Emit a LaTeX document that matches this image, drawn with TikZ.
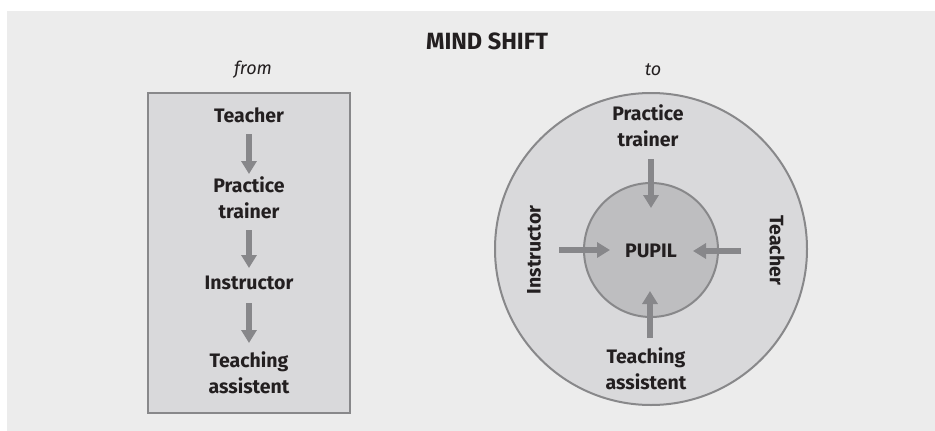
\documentclass[tikz,border=0pt]{standalone}
\usepackage{fontspec}
\setmainfont{Fira Sans}
\usetikzlibrary{arrows.meta}
\definecolor{panel}{HTML}{ECECEC}
\definecolor{boxfill}{HTML}{D9D9DB}
\definecolor{edge}{HTML}{88888A}
\definecolor{innerfill}{HTML}{BEBEC0}
\definecolor{arrowgray}{HTML}{87878A}
\definecolor{ink}{HTML}{231F20}
\tikzset{
  lbl/.style={font=\fontsize{19.5}{26.5}\selectfont\bfseries, text=ink, align=center, inner sep=0pt},
  captext/.style={font=\fontsize{18}{20}\selectfont\itshape, text=ink, inner sep=0pt},
  flow/.style={draw=arrowgray, line width=5.5pt, -{Triangle[width=15pt,length=13pt]}},
}
\begin{document}
\begin{tikzpicture}[x=1pt,y=-1pt]
\useasboundingbox (0,0) rectangle (935,431);
\fill[panel] (7,11) rectangle (935,431);
% title
\node[font=\fontsize{23.5}{26}\selectfont\bfseries, text=ink, inner sep=0pt] (title) at (487,41) {MIND SHIFT};
\node[captext] (from) at (253,70) {from};
\node[captext] (to) at (653,70) {to};
% left box
\draw[edge, fill=boxfill, line width=2.6pt] (148,93) rectangle (350,413);
\node[lbl] (t1) at (249,115) {Teacher};
\node[lbl] (t2) at (249,198) {Practice\\trainer};
\node[lbl] (t3) at (249,283) {Instructor};
\node[lbl] (t4) at (249,373) {Teaching\\assistent};
\coordinate (a1s) at (249,134); \coordinate (a1e) at (249,174);
\coordinate (a2s) at (249,230); \coordinate (a2e) at (249,268);
\coordinate (a3s) at (249,303); \coordinate (a3e) at (249,343);
\draw[flow] (a1s) -- (a1e);
\draw[flow] (a2s) -- (a2e);
\draw[flow] (a3s) -- (a3e);
% right circles
\node[draw=edge, fill=boxfill, line width=2pt, circle, minimum size=312pt, inner sep=0pt] (outer) at (651,249) {};
\node[draw=edge, fill=innerfill, line width=2pt, circle, minimum size=134pt, inner sep=0pt] (inner) at (651,250) {};
\node[lbl] (pupil) at (651,251) {PUPIL};
\node[lbl] (r1) at (648,126) {Practice\\trainer};
\node[lbl, rotate=90] (r2) at (534,250) {Instructor};
\node[lbl, rotate=-90] (r3) at (777,250) {Teacher};
\node[lbl] (r4) at (646,369) {Teaching\\assistent};
\coordinate (b1s) at (651,159); \coordinate (b1e) at (651,208);
\coordinate (b2s) at (559,250); \coordinate (b2e) at (610,250);
\coordinate (b3s) at (741,251); \coordinate (b3e) at (693,251);
\coordinate (b4s) at (650,338); \coordinate (b4e) at (650,291);
\draw[flow] (b1s) -- (b1e);
\draw[flow] (b2s) -- (b2e);
\draw[flow] (b3s) -- (b3e);
\draw[flow] (b4s) -- (b4e);
\end{tikzpicture}
\end{document}
